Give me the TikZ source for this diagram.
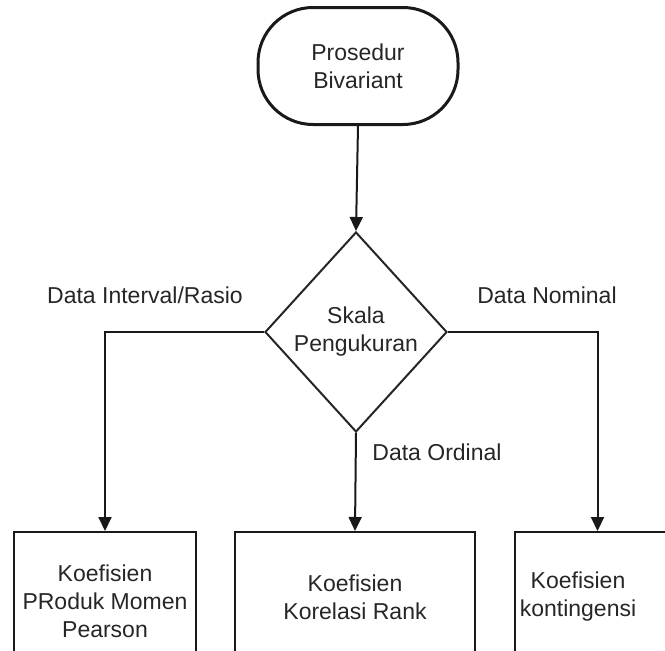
\documentclass[tikz,border=0pt]{standalone}
\usepackage{fontspec}
\setmainfont{Liberation Sans}
\usetikzlibrary{arrows.meta,shapes.geometric}
\begin{document}
\begin{tikzpicture}[x=1pt,y=-1pt,
  txt/.style={font=\fontsize{23}{28}\selectfont, align=center, text=black!85, inner sep=0pt},
  conn/.style={line width=2pt, draw=black!90, -{Triangle[length=14pt,width=13pt]}},
  boxnode/.style={draw=black!90, line width=2pt, rectangle, inner sep=0pt},
  decision/.style={draw=black!85, line width=2pt, diamond, inner sep=0pt, minimum width=182pt, minimum height=200pt}]
\useasboundingbox (0,0) rectangle (665,651);
\clip (0,0) rectangle (665,651);
\node[draw=black!90, line width=3pt, rounded corners=55pt, minimum width=200pt, minimum height=117pt, txt] (start) at (358,66) {Prosedur\\Bivariant};
\node[decision, txt] (dia) at (356,332) {Skala\\Pengukuran};
\node[boxnode, minimum width=182pt, minimum height=138pt] (b1) at (105,601) {};
\node[boxnode, minimum width=240pt, minimum height=130pt] (b2) at (355,597) {};
\node[boxnode, minimum width=165pt, minimum height=130pt] (b3) at (597.5,597) {};
\node[txt] (t1) at (105,601) {Koefisien\\PRoduk Momen\\Pearson};
\node[txt] (t2) at (355,597) {Koefisien\\Korelasi Rank};
\node[txt] (t3) at (578,597) {Koefisien\\kontingensi};
\draw[conn] (start.south) -- (dia.north);
\draw[conn] (dia.west) -| (b1.north);
\draw[conn] (dia.east) -| (b3.north);
\draw[conn] (dia.south) -- (b2.north);
\node[txt] (l1) at (145,295) {Data Interval/Rasio};
\node[txt] (l2) at (547,295) {Data Nominal};
\node[txt] (l3) at (437,452) {Data Ordinal};
\end{tikzpicture}
\end{document}
